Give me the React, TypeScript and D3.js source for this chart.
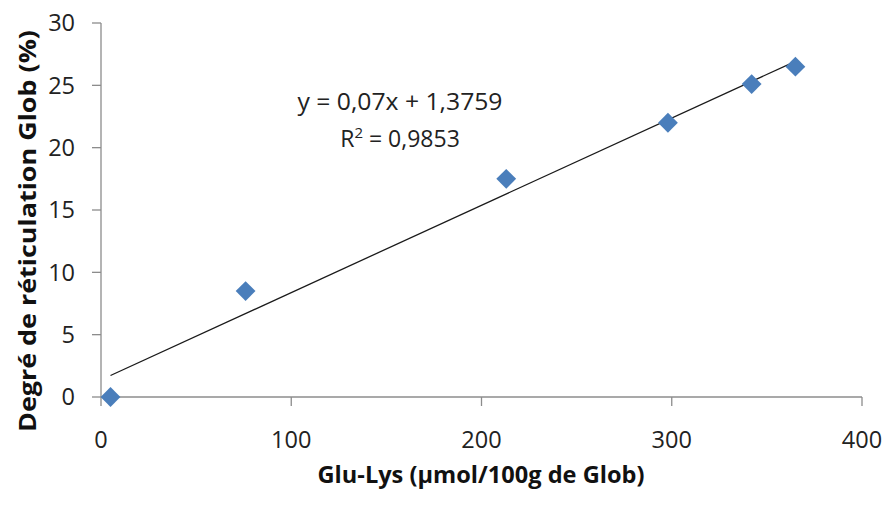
import React from "react";
import * as d3 from "d3";

const xValues = [5, 76, 213, 298, 342, 365];
const yValues = [0, 8.5, 17.5, 22, 25.1, 26.5];
const xTicks = [0, 100, 200, 300, 400];
const yTicks = [0, 5, 10, 15, 20, 25, 30];
const slope = 0.07;
const intercept = 1.3759;
const equationText = "y = 0,07x + 1,3759";
const r2Text = "= 0,9853";
const xTitle = "Glu-Lys (µmol/100g de Glob)";
const yTitle = "Degré de réticulation  Glob  (%)";

export default function App() {
  const W = 888, H = 505;
  const x = d3.scaleLinear().domain([0, 400]).range([101, 862]);
  const y = d3.scaleLinear().domain([0, 30]).range([397, 23]);
  const font = "Open Sans, Calibri, sans-serif";
  const axisColor = "#8c8c8c";
  const ext = d3.extent(xValues) as [number, number];
  const diamond = d3.symbol().type(d3.symbolDiamond2).size(250)() as string;
  return (
    <svg width={W} height={H} style={{ position: "absolute", left: 0, top: 0, background: "#fff" }} fontFamily={font}>
      {/* axes */}
      <line x1={x(0)} x2={x(0)} y1={y(30)} y2={y(0)} stroke={axisColor} strokeWidth={1.3} />
      <line x1={x(0)} x2={x(400)} y1={y(0)} y2={y(0)} stroke={axisColor} strokeWidth={1.3} />
      {yTicks.map((t) => (
        <g key={"y" + t}>
          <line x1={x(0) - 9} x2={x(0)} y1={y(t)} y2={y(t)} stroke={axisColor} strokeWidth={1.3} />
          <text x={x(0) - 26} y={y(t)} dy="0.36em" textAnchor="end" fontSize={23.5} fill="#222">{t}</text>
        </g>
      ))}
      {xTicks.map((t) => (
        <g key={"x" + t}>
          <line x1={x(t)} x2={x(t)} y1={y(0)} y2={y(0) + 9} stroke={axisColor} strokeWidth={1.3} />
          <text x={x(t)} y={y(0) + 51} textAnchor="middle" fontSize={23.5} fill="#222">{t}</text>
        </g>
      ))}
      {/* trendline */}
      <line x1={x(ext[0])} y1={y(slope * ext[0] + intercept)} x2={x(ext[1])} y2={y(slope * ext[1] + intercept)} stroke="#1a1a1a" strokeWidth={1.3} />
      {/* points */}
      {xValues.map((v, i) => (
        <path key={i} d={diamond} transform={`translate(${x(v)},${y(yValues[i])})`} fill="#4a7ebb" />
      ))}
      {/* equation */}
      <text x={400} y={110} textAnchor="middle" fontSize={23} textLength={205} lengthAdjust="spacingAndGlyphs" fill="#222">{equationText}</text>
      <text x={400} y={147} textAnchor="middle" fontSize={23} fill="#222">
        R<tspan fontSize={15} dy={-9}>2</tspan><tspan dy={9}> {r2Text}</tspan>
      </text>
      {/* titles */}
      <text x={481} y={483} textAnchor="middle" fontSize={23} fontWeight="bold" fill="#111" textLength={327} lengthAdjust="spacingAndGlyphs">{xTitle}</text>
      <text transform={`translate(36,231) rotate(-90)`} textAnchor="middle" fontSize={23} fontWeight="bold" fill="#111" textLength={402} lengthAdjust="spacingAndGlyphs">{yTitle}</text>
    </svg>
  );
}
